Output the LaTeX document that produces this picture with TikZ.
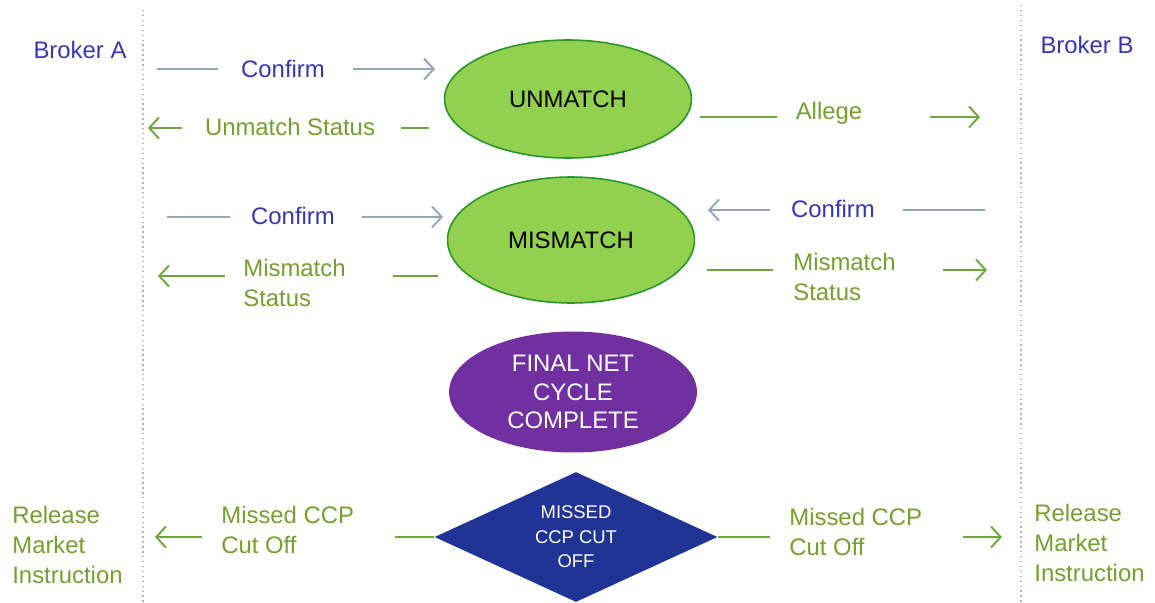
\documentclass[tikz,border=0pt]{standalone}
\usepackage{fontspec}
\setmainfont{Liberation Sans}
\usetikzlibrary{shapes.geometric,arrows.meta}
\definecolor{txtblue}{RGB}{55,55,175}
\definecolor{txtgreen}{RGB}{118,158,48}
\definecolor{lnblue}{RGB}{150,165,185}
\definecolor{lngreen}{RGB}{112,165,65}
\definecolor{ovgreen}{RGB}{146,208,80}
\definecolor{ovedge}{RGB}{40,150,40}
\definecolor{ovpurple}{RGB}{112,48,160}
\definecolor{dmdblue}{RGB}{31,52,148}
\begin{document}
\begin{tikzpicture}[x=0.02cm,y=-0.02cm,
  every node/.style={font=\fontsize{13.6}{17}\selectfont,inner sep=0pt},
  bluelbl/.style={text=txtblue},
  greenlbl/.style={text=txtgreen,align=left},
  blueln/.style={draw=lnblue,line width=1.1pt},
  greenln/.style={draw=lngreen,line width=1.1pt},
  headed/.style={-{Straight Barb[length=5.5pt,width=12pt]}},
  state/.style={ellipse,draw=ovedge,line width=0.9pt,fill=ovgreen,minimum width=4.94cm},
  divider/.style={draw=gray!60,dotted,line width=0.8pt}]
\useasboundingbox (0,0) rectangle (1155,602);
\coordinate (lt) at (143,10); \coordinate (lb) at (143,602);
\coordinate (rt) at (1021,5); \coordinate (rb) at (1021,602);
\draw[divider] (lt) -- (lb);
\draw[divider] (rt) -- (rb);
\node[bluelbl] (brokera) at (80,50) {Broker A};
\node[bluelbl] (brokerb) at (1087,45) {Broker B};
\node[state,minimum height=2.36cm] (unmatch) at (568,99) {UNMATCH};
\node[state,minimum height=2.52cm] (mismatch) at (571,240) {MISMATCH};
\node[ellipse,fill=ovpurple,text=white,minimum width=4.96cm,minimum height=2.42cm,
  align=center,font=\fontsize{13.6}{16.2}\selectfont] (final) at (573,392) {FINAL NET\\CYCLE\\COMPLETE};
\node[diamond,aspect=2.2,fill=dmdblue,text=white,minimum width=5.66cm,minimum height=2.6cm,
  align=center,font=\fontsize{10.5}{13.9}\selectfont] (missed) at (576,537) {MISSED\\CCP CUT\\OFF};
\node[bluelbl] (conf1) at (283,69) {Confirm};
\node[greenlbl] (ustat) at (290,127) {Unmatch Status};
\node[greenlbl] (allege) at (829,113) {Allege};
\node[bluelbl] (conf2) at (293,216) {Confirm};
\node[bluelbl] (conf3) at (833,209) {Confirm};
\node[greenlbl,anchor=west] (mstat1) at (243,283) {Mismatch\\Status};
\node[greenlbl,anchor=west] (mstat2) at (793,277) {Mismatch\\Status};
\node[greenlbl,anchor=west] (cut1) at (221,530) {Missed CCP\\Cut Off};
\node[greenlbl,anchor=west] (cut2) at (789,532) {Missed CCP\\Cut Off};
\node[greenlbl,anchor=west] (rel1) at (12,545) {Release\\Market\\Instruction};
\node[greenlbl,anchor=west] (rel2) at (1034,543) {Release\\Market\\Instruction};
\coordinate (c1a) at (157,69); \coordinate (c1b) at (218,69);
\coordinate (c1c) at (353,69); \coordinate (c1d) at (435,69);
\coordinate (u2a) at (429,128); \coordinate (u2b) at (401,128);
\coordinate (u2c) at (182,128); \coordinate (u2d) at (148,128);
\coordinate (a3a) at (700,117); \coordinate (a3b) at (777,117);
\coordinate (a3c) at (930,117); \coordinate (a3d) at (980,117);
\coordinate (c4a) at (167,217); \coordinate (c4b) at (230,217);
\coordinate (c4c) at (362,217); \coordinate (c4d) at (443,217);
\coordinate (c5a) at (985,210); \coordinate (c5b) at (903,210);
\coordinate (c5c) at (770,210); \coordinate (c5d) at (708,210);
\coordinate (m6a) at (438,276); \coordinate (m6b) at (393,276);
\coordinate (m6c) at (225,276); \coordinate (m6d) at (158,276);
\coordinate (m7a) at (707,270); \coordinate (m7b) at (773,270);
\coordinate (m7c) at (943,270); \coordinate (m7d) at (987,270);
\coordinate (m8b) at (395,537);
\coordinate (m8c) at (202,537); \coordinate (m8d) at (155,537);
\coordinate (m9b) at (770,537);
\coordinate (m9c) at (963,537); \coordinate (m9d) at (1002,537);
\draw[blueln] (c1a) -- (c1b);
\draw[blueln,headed] (c1c) -- (c1d);
\draw[greenln] (u2a) -- (u2b);
\draw[greenln,headed] (u2c) -- (u2d);
\draw[greenln] (a3a) -- (a3b);
\draw[greenln,headed] (a3c) -- (a3d);
\draw[blueln] (c4a) -- (c4b);
\draw[blueln,headed] (c4c) -- (c4d);
\draw[blueln] (c5a) -- (c5b);
\draw[blueln,headed] (c5c) -- (c5d);
\draw[greenln] (m6a) -- (m6b);
\draw[greenln,headed] (m6c) -- (m6d);
\draw[greenln] (m7a) -- (m7b);
\draw[greenln,headed] (m7c) -- (m7d);
\draw[greenln] (missed.west) -- (m8b);
\draw[greenln,headed] (m8c) -- (m8d);
\draw[greenln] (missed.east) -- (m9b);
\draw[greenln,headed] (m9c) -- (m9d);
\end{tikzpicture}
\end{document}
